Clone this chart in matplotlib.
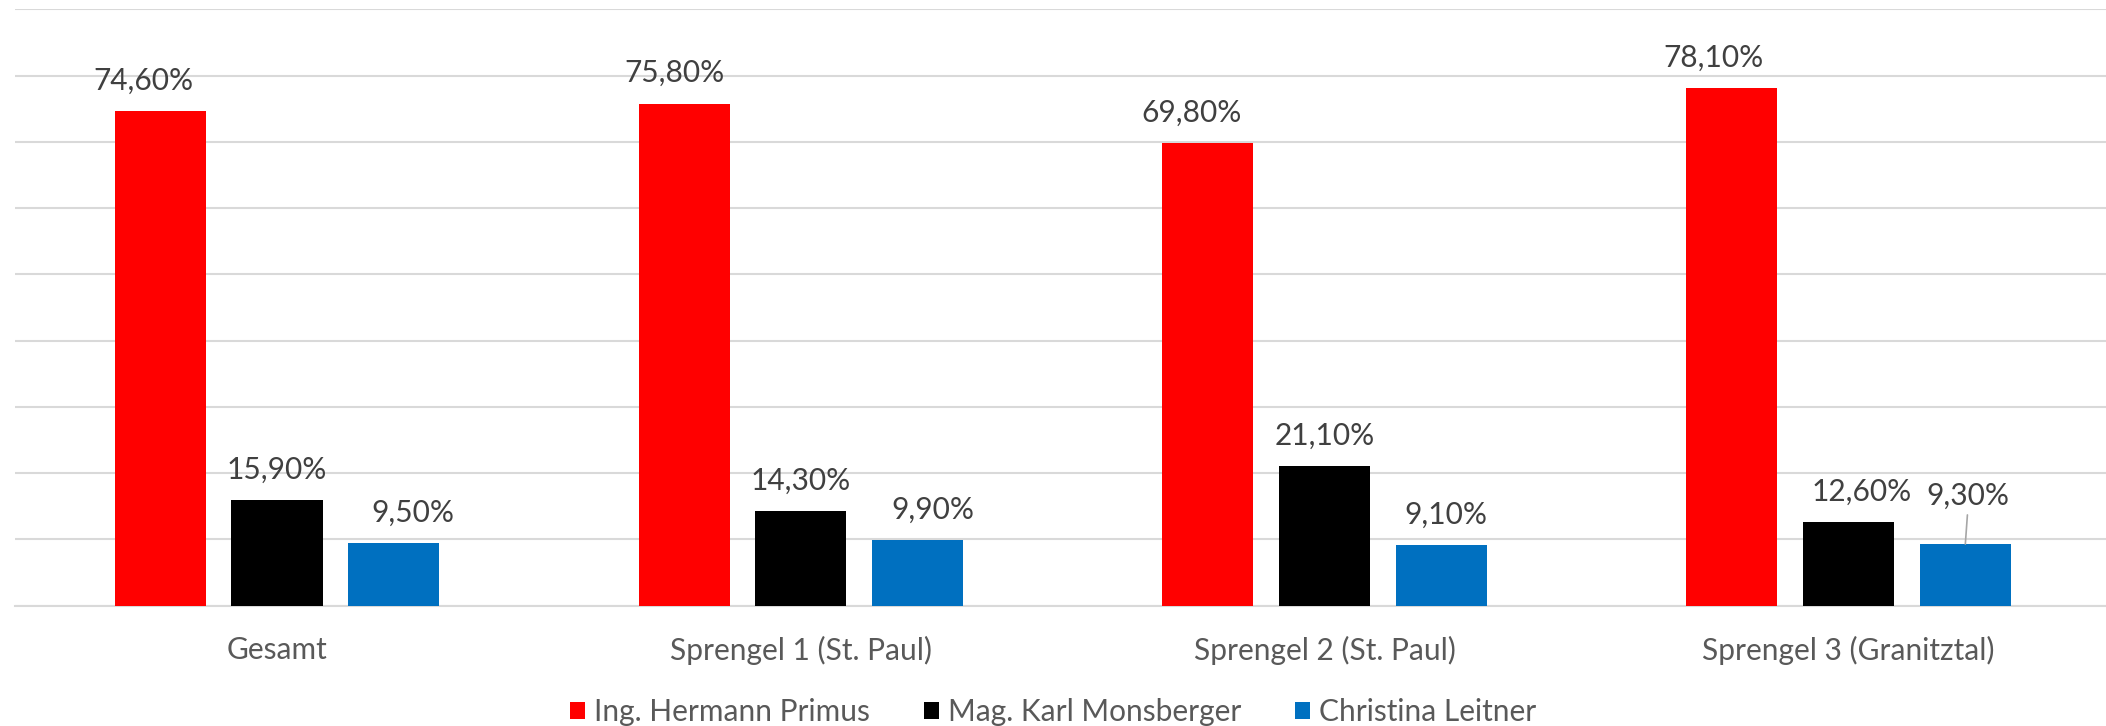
import matplotlib
matplotlib.use("Agg")
import matplotlib.pyplot as plt
import numpy as np

categories = ["Gesamt", "Sprengel 1 (St. Paul)", "Sprengel 2 (St. Paul)", "Sprengel 3 (Granitztal)"]
series_names = ["Ing. Hermann Primus", "Mag. Karl Monsberger", "Christina Leitner"]
primus = [0.746, 0.758, 0.698, 0.781]
monsberger = [0.159, 0.143, 0.211, 0.126]
leitner = [0.095, 0.099, 0.091, 0.093]
colors = ["#FF0000", "#000000", "#0070C0"]

# label placement tweaks (points): horizontal shift per series/category
label_dx = [[-12, -7, -11.5, -13], [0, 0, 0, 9.5], [13.5, 11, 3.5, 1.5]]

plt.rcParams['font.family'] = ['Lato', 'DejaVu Sans']
FS = 21.5

fig = plt.figure(figsize=(21.06, 7.26), dpi=100)
ax = fig.add_axes([0.0072, 0.1657, 0.9949, 0.8213])

x = np.arange(len(categories))
width = 0.174
step = 0.223
series = [primus, monsberger, leitner]

def fmt(v):
    return f"{v*100:.2f}%".replace(".", ",")

for i, (vals, col, name) in enumerate(zip(series, colors, series_names)):
    pos = x + (i - 1) * step
    ax.bar(pos, vals, width, color=col, label=name, zorder=3)
    for j, (px, v) in enumerate(zip(pos, vals)):
        dx = label_dx[i][j]
        if i == 2 and j == 3:
            ax.annotate(fmt(v), xy=(px, v), xytext=(dx, 34.5), textcoords="offset points",
                        ha="center", va="center", fontsize=FS, color="#404040")
            ax.annotate("", xy=(px, v), xytext=(1.5, 21), textcoords="offset points",
                        arrowprops=dict(arrowstyle="-", color="#a6a6a6", lw=1.2,
                                        shrinkA=0, shrinkB=0))
        else:
            ax.annotate(fmt(v), xy=(px, v), xytext=(dx, 21.8), textcoords="offset points",
                        ha="center", va="center", fontsize=FS, color="#404040")

ax.set_xlim(-0.5, 3.5)
ax.set_ylim(0, 0.9)
ax.set_yticks(np.arange(0, 0.91, 0.1))
ax.yaxis.grid(True, color="#d9d9d9", linewidth=1.5, zorder=0)
ax.tick_params(axis="y", left=False, labelleft=False)
ax.set_xticks(x)
ax.set_xticklabels(categories, fontsize=FS, color="#595959")
ax.tick_params(axis="x", length=0, pad=22)
for s in ["top", "right", "left"]:
    ax.spines[s].set_visible(False)
ax.spines["bottom"].set_color("#d9d9d9")
ax.spines["bottom"].set_linewidth(1.5)
ax.set_axisbelow(True)

fig.legend(loc="center", bbox_to_anchor=(0.5, 0.019), ncol=3, frameon=False,
           fontsize=FS, handlelength=0.5, handleheight=0.5, handletextpad=0.3,
           columnspacing=1.8, labelcolor="#595959")

fig.savefig("out.png", dpi=100, facecolor="white")
